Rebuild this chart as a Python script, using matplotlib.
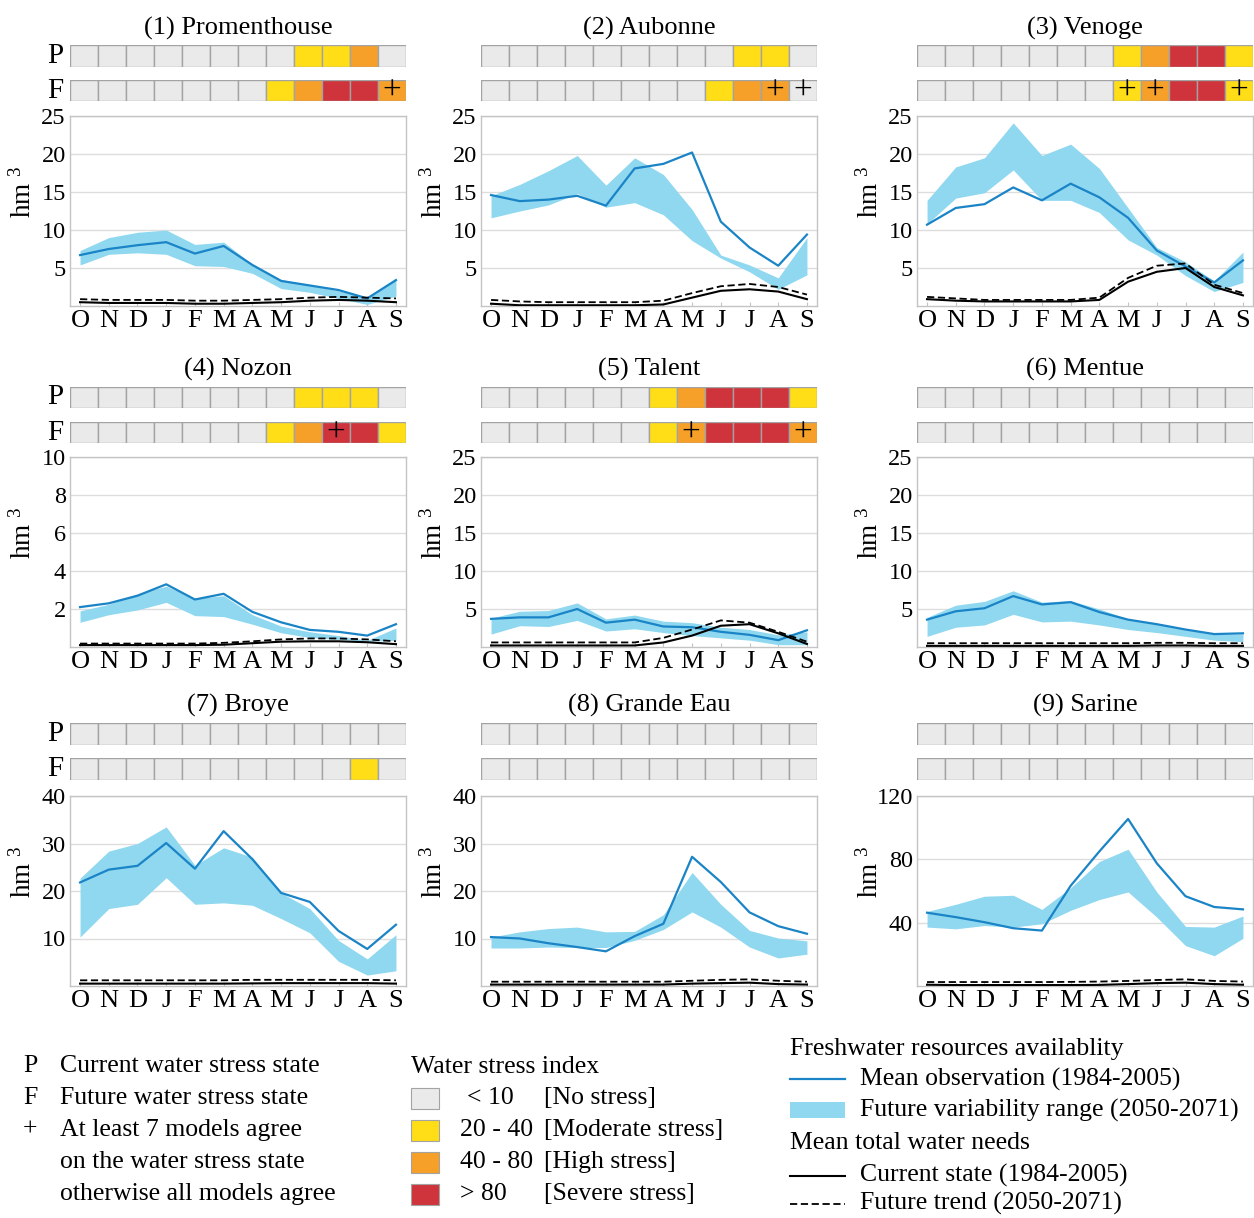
import matplotlib

matplotlib.use("Agg")
import matplotlib.pyplot as plt  # noqa: E402
from matplotlib.patches import Rectangle  # noqa: E402

plt.rcParams.update(
    {
        "font.family": ["Liberation Serif", "DejaVu Serif"],
        "mathtext.fontset": "custom",
        "mathtext.rm": "Liberation Serif",
        "mathtext.it": "Liberation Serif:italic",
        "mathtext.default": "regular",
    }
)

W, H = 1254, 1218

MONTHS = list("ONDJFMAMJJAS")
NAMES = [
    "(1) Promenthouse", "(2) Aubonne", "(3) Venoge",
    "(4) Nozon", "(5) Talent", "(6) Mentue",
    "(7) Broye", "(8) Grande Eau", "(9) Sarine",
]
YMAX = [25, 25, 25, 10, 25, 25, 40, 40, 120]
YTICKS = [
    [5, 10, 15, 20, 25], [5, 10, 15, 20, 25], [5, 10, 15, 20, 25],
    [2, 4, 6, 8, 10], [5, 10, 15, 20, 25], [5, 10, 15, 20, 25],
    [10, 20, 30, 40], [10, 20, 30, 40], [40, 80, 120],
]

# mean observed freshwater availability (hm3)
OBS = [
    [6.7, 7.5, 8.0, 8.4, 6.9, 7.9, 5.4, 3.3, 2.7, 2.1, 1.0, 3.4],
    [14.6, 13.8, 14.0, 14.5, 13.2, 18.1, 18.7, 20.2, 11.1, 7.7, 5.3, 9.4],
    [10.7, 12.9, 13.4, 15.6, 13.9, 16.1, 14.3, 11.6, 7.3, 5.2, 3.1, 6.0],
    [2.1, 2.3, 2.7, 3.3, 2.5, 2.8, 1.85, 1.3, 0.9, 0.8, 0.6, 1.2],
    [3.7, 3.9, 3.9, 5.0, 3.2, 3.6, 2.7, 2.6, 2.0, 1.6, 0.9, 2.2],
    [3.6, 4.7, 5.1, 6.7, 5.6, 5.9, 4.6, 3.6, 3.0, 2.3, 1.7, 1.8],
    [21.8, 24.5, 25.3, 30.1, 24.7, 32.6, 26.7, 19.6, 17.7, 11.6, 7.8, 12.9],
    [10.3, 10.0, 9.0, 8.2, 7.3, 10.5, 13.1, 27.2, 21.9, 15.5, 12.6, 11.0],
    [46.3, 43.5, 40.3, 36.5, 35.0, 63.3, 85.0, 105.5, 77.5, 56.7, 49.9, 48.4],
]
# future variability range, upper and lower edge
BAND_HI = [
    [7.3, 9.0, 9.7, 10.0, 8.1, 8.4, 5.5, 3.5, 2.7, 2.0, 1.1, 3.7],
    [14.5, 16.0, 17.8, 19.8, 15.9, 19.5, 17.3, 12.7, 6.7, 5.4, 3.7, 9.0],
    [13.9, 18.3, 19.5, 24.1, 19.8, 21.3, 18.1, 12.9, 7.7, 5.8, 3.3, 7.1],
    [1.9, 2.25, 2.8, 3.2, 2.55, 2.7, 1.7, 1.1, 0.8, 0.6, 0.35, 1.0],
    [3.8, 4.7, 4.8, 5.8, 3.7, 4.2, 3.4, 3.2, 2.6, 2.3, 1.6, 2.0],
    [3.9, 5.5, 6.0, 7.4, 5.9, 6.1, 5.0, 3.7, 3.0, 2.4, 1.7, 1.7],
    [22.7, 28.4, 30.0, 33.5, 25.4, 29.1, 27.1, 19.6, 16.3, 9.6, 5.7, 10.8],
    [10.3, 11.4, 12.1, 12.4, 11.4, 11.5, 15.0, 23.9, 17.2, 11.7, 10.1, 9.5],
    [47.1, 51.6, 56.7, 57.3, 48.4, 62.0, 78.6, 86.4, 59.4, 37.6, 37.2, 44.2],
]
BAND_LO = [
    [5.4, 6.8, 7.0, 6.8, 5.3, 5.2, 4.3, 2.3, 1.8, 1.0, 0.2, 1.3],
    [11.6, 12.5, 13.3, 14.8, 13.0, 13.6, 12.0, 8.6, 6.3, 4.5, 2.2, 4.1],
    [10.8, 14.2, 14.9, 17.9, 13.9, 13.9, 12.3, 8.7, 6.7, 4.0, 1.9, 3.1],
    [1.3, 1.7, 1.95, 2.35, 1.65, 1.6, 1.2, 0.75, 0.5, 0.4, 0.3, 0.35],
    [1.7, 2.8, 2.7, 3.5, 2.1, 2.4, 1.9, 1.5, 1.2, 0.9, 0.3, 0.3],
    [1.4, 2.6, 2.9, 4.3, 3.3, 3.4, 2.9, 2.3, 1.9, 1.4, 0.9, 0.7],
    [10.3, 16.3, 17.2, 22.8, 17.2, 17.5, 17.0, 14.2, 11.2, 5.2, 2.3, 3.2],
    [8.0, 8.0, 8.2, 8.1, 8.1, 9.6, 11.9, 15.6, 12.4, 8.2, 5.9, 6.7],
    [37.2, 36.1, 38.2, 37.2, 39.3, 47.8, 54.6, 59.4, 43.5, 25.5, 19.1, 30.1],
]
# mean total water needs, current and future
NEED_NOW = [
    [0.5, 0.4, 0.4, 0.4, 0.3, 0.3, 0.4, 0.5, 0.7, 0.8, 0.7, 0.5],
    [0.3, 0.1, 0.1, 0.1, 0.1, 0.1, 0.2, 1.1, 2.0, 2.2, 1.9, 0.9],
    [0.9, 0.7, 0.6, 0.6, 0.6, 0.6, 0.8, 3.2, 4.5, 5.0, 2.5, 1.4],
    [0.1, 0.1, 0.1, 0.1, 0.1, 0.12, 0.2, 0.28, 0.3, 0.3, 0.25, 0.15],
    [0.2, 0.2, 0.2, 0.2, 0.2, 0.2, 0.6, 1.5, 2.8, 3.0, 1.8, 0.4],
    [0.15, 0.15, 0.15, 0.15, 0.15, 0.15, 0.15, 0.15, 0.2, 0.2, 0.15, 0.15],
    [0.5, 0.5, 0.5, 0.5, 0.5, 0.5, 0.55, 0.6, 0.6, 0.6, 0.6, 0.5],
    [0.3, 0.3, 0.3, 0.3, 0.3, 0.3, 0.3, 0.5, 0.6, 0.7, 0.4, 0.3],
    [0.8, 0.6, 0.6, 0.6, 0.6, 0.6, 0.7, 1.2, 1.8, 2.1, 1.2, 0.8],
]
NEED_FUT = [
    [0.9, 0.8, 0.8, 0.8, 0.7, 0.7, 0.8, 0.9, 1.1, 1.2, 1.1, 1.0],
    [0.8, 0.6, 0.5, 0.5, 0.5, 0.5, 0.7, 1.7, 2.6, 2.9, 2.5, 1.5],
    [1.2, 1.0, 0.8, 0.8, 0.8, 0.8, 1.1, 3.7, 5.3, 5.6, 2.8, 1.7],
    [0.18, 0.18, 0.18, 0.18, 0.18, 0.22, 0.3, 0.4, 0.45, 0.45, 0.4, 0.3],
    [0.6, 0.6, 0.6, 0.6, 0.6, 0.6, 1.2, 2.3, 3.5, 3.2, 2.0, 0.7],
    [0.5, 0.5, 0.5, 0.5, 0.5, 0.5, 0.5, 0.5, 0.55, 0.55, 0.5, 0.5],
    [1.2, 1.2, 1.2, 1.2, 1.2, 1.2, 1.3, 1.3, 1.3, 1.3, 1.3, 1.2],
    [0.9, 0.9, 0.9, 0.9, 0.9, 0.9, 0.9, 1.1, 1.3, 1.4, 1.1, 0.9],
    [2.5, 2.5, 2.5, 2.5, 2.5, 2.6, 2.8, 3.2, 3.8, 4.2, 3.2, 2.8],
]
# water stress class per month: 0 none, 1 moderate, 2 high, 3 severe
STRESS_P = [
    [0, 0, 0, 0, 0, 0, 0, 0, 1, 1, 2, 0],
    [0, 0, 0, 0, 0, 0, 0, 0, 0, 1, 1, 0],
    [0, 0, 0, 0, 0, 0, 0, 1, 2, 3, 3, 1],
    [0, 0, 0, 0, 0, 0, 0, 0, 1, 1, 1, 0],
    [0, 0, 0, 0, 0, 0, 1, 2, 3, 3, 3, 1],
    [0, 0, 0, 0, 0, 0, 0, 0, 0, 0, 0, 0],
    [0, 0, 0, 0, 0, 0, 0, 0, 0, 0, 0, 0],
    [0, 0, 0, 0, 0, 0, 0, 0, 0, 0, 0, 0],
    [0, 0, 0, 0, 0, 0, 0, 0, 0, 0, 0, 0],
]
STRESS_F = [
    [0, 0, 0, 0, 0, 0, 0, 1, 2, 3, 3, 2],
    [0, 0, 0, 0, 0, 0, 0, 0, 1, 2, 2, 0],
    [0, 0, 0, 0, 0, 0, 0, 1, 2, 3, 3, 1],
    [0, 0, 0, 0, 0, 0, 0, 1, 2, 3, 3, 1],
    [0, 0, 0, 0, 0, 0, 1, 2, 3, 3, 3, 2],
    [0, 0, 0, 0, 0, 0, 0, 0, 0, 0, 0, 0],
    [0, 0, 0, 0, 0, 0, 0, 0, 0, 0, 1, 0],
    [0, 0, 0, 0, 0, 0, 0, 0, 0, 0, 0, 0],
    [0, 0, 0, 0, 0, 0, 0, 0, 0, 0, 0, 0],
]
# months of the future state where only >= 7 models agree
AGREE_F = [[11], [10, 11], [7, 8, 11], [9], [7, 11], [], [], [], []]

STRESS_COLORS = ["#EAEAEA", "#FFDE17", "#F6A02A", "#CF333B"]
STRESS_EDGE = "#A3A3A3"
OBS_COLOR = "#1A84C6"
BAND_COLOR = "#8FD8F0"
SPINE = "#C4C4C4"
GRID = "#DDDDDD"

COLS = [(70, 406), (481, 817), (917, 1253)]
ROWS = [
    {"title": 28, "p": (45, 67), "f": (80, 101), "ax": (116, 306)},
    {"title": 369, "p": (387, 408), "f": (422, 443), "ax": (457, 647)},
    {"title": 705, "p": (723, 745), "f": (758, 780), "ax": (796, 986)},
]


def rect(x0, x1, y0, y1):
    return [x0 / W, 1 - y1 / H, (x1 - x0) / W, (y1 - y0) / H]


fig = plt.figure(figsize=(W / 100, H / 100), dpi=100)
over = fig.add_axes([0, 0, 1, 1])
over.set_xlim(0, W)
over.set_ylim(H, 0)
over.axis("off")


def strip(x0, x1, y0, y1, levels, plus):
    sax = fig.add_axes(rect(x0, x1, y0, y1))
    xs = range(len(levels))
    sax.bar(xs, [1] * len(levels), width=1.0, bottom=0,
            color=[STRESS_COLORS[v] for v in levels],
            edgecolor=STRESS_EDGE, linewidth=1.0)
    for i in plus:
        sax.text(i, 0.45, "+", ha="center", va="center", fontsize=24,
                 color="black")
    sax.set_xlim(-0.5, len(levels) - 0.5)
    sax.set_ylim(0, 1)
    sax.axis("off")
    return sax


for k in range(9):
    r, c = divmod(k, 3)
    x0, x1 = COLS[c]
    row = ROWS[r]
    over.text((x0 + x1) / 2, row["title"], NAMES[k], ha="center",
              va="center", fontsize=19)
    strip(x0, x1, *row["p"], STRESS_P[k], [])
    strip(x0, x1, *row["f"], STRESS_F[k], AGREE_F[k])
    if c == 0:
        over.text(55, sum(row["p"]) / 2, "P", ha="center", va="center",
                  fontsize=21)
        over.text(55, sum(row["f"]) / 2, "F", ha="center", va="center",
                  fontsize=21)

    ax = fig.add_axes(rect(x0, x1, *row["ax"]))
    xs = list(range(12))
    ax.fill_between(xs, BAND_LO[k], BAND_HI[k], color=BAND_COLOR, lw=0,
                    zorder=2)
    ax.plot(xs, OBS[k], color=OBS_COLOR, lw=1.6, zorder=3)
    ax.plot(xs, NEED_NOW[k], color="black", lw=1.5, zorder=4)
    ax.plot(xs, NEED_FUT[k], color="black", lw=1.3, ls=(0, (4, 2)),
            zorder=4)
    ax.set_xlim(-0.35, 11.35)
    ax.set_ylim(0, YMAX[k])
    ax.set_yticks(YTICKS[k])
    ax.set_yticklabels([str(t) for t in YTICKS[k]], fontsize=17.5)
    ax.set_xticks(xs)
    ax.set_xticklabels(MONTHS, fontsize=19)
    ax.tick_params(axis="y", length=0, pad=3)
    ax.tick_params(axis="x", length=3, color=SPINE, direction="in", pad=3)
    ax.grid(axis="y", color=GRID, lw=1.0, zorder=0)
    ax.set_axisbelow(True)
    for s in ax.spines.values():
        s.set_color(SPINE)
        s.set_linewidth(1.0)
    ax.set_ylabel("hm $^{3}$", fontsize=19.5)
    ax.yaxis.set_label_coords(-33 / (x1 - x0), 0.6)

# legend, left block
FS = 18.5
left_rows = [
    ("P", "Current water stress state"),
    ("F", "Future water stress state"),
    ("+", "At least 7 models agree"),
    ("", "on the water stress state"),
    ("", "otherwise all models agree"),
]
for i, (key, txt) in enumerate(left_rows):
    y = 1066 + 32 * i
    over.text(30, y, key, ha="center", va="center", fontsize=FS)
    over.text(60, y, txt, ha="left", va="center", fontsize=FS)

# legend, middle block
over.text(411, 1067, "Water stress index", ha="left", va="center",
          fontsize=FS)
classes = [("< 10", "[No stress]"), ("20 - 40", "[Moderate stress]"),
           ("40 - 80", "[High stress]"), ("> 80", "[Severe stress]")]
for i, (rng, name) in enumerate(classes):
    y = 1098 + 32 * i
    over.add_patch(Rectangle((411, y - 10.5), 28, 21,
                             facecolor=STRESS_COLORS[i],
                             edgecolor=STRESS_EDGE, lw=0.8))
    over.text(467 if i == 0 else 460, y, rng, ha="left", va="center",
              fontsize=FS)
    over.text(544, y, name, ha="left", va="center", fontsize=FS)

# legend, right block (nudged up a little so the last line stays inside)
over.text(790, 1049, "Freshwater resources availablity", ha="left",
          va="center", fontsize=FS)
over.plot([790, 845], [1079, 1079], color=OBS_COLOR, lw=1.6)
over.text(860, 1079, "Mean observation (1984-2005)", ha="left",
          va="center", fontsize=FS)
over.add_patch(Rectangle((790, 1102), 55, 16, facecolor=BAND_COLOR, lw=0))
over.text(860, 1110, "Future variability range (2050-2071)", ha="left",
          va="center", fontsize=FS)
over.text(790, 1143, "Mean total water needs", ha="left", va="center",
          fontsize=FS)
over.plot([790, 845], [1176, 1176], color="black", lw=1.5)
over.text(860, 1175, "Current state (1984-2005)", ha="left", va="center",
          fontsize=FS)
over.plot([790, 845], [1204, 1204], color="black", lw=1.3, ls=(0, (4, 2)))
over.text(860, 1203, "Future trend (2050-2071)", ha="left", va="center",
          fontsize=FS)

fig.savefig("out.png", dpi=100)
